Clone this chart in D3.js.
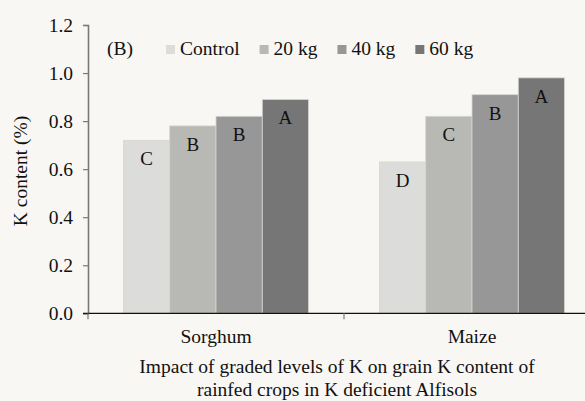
<!DOCTYPE html>
<html>
<head>
<meta charset="utf-8">
<script src="https://cdn.jsdelivr.net/npm/d3@7"></script>
<style>
	html, body { margin: 0; padding: 0; background: #f9f7f3; }
</style>
</head>
<body>
<div id="chart"></div>
<script>
var crops = ["Sorghum", "Maize"];
var levels = ["Control", "20 kg", "40 kg", "60 kg"];
var sorghum = [0.72, 0.78, 0.82, 0.89];
var maize = [0.63, 0.82, 0.91, 0.98];
var sorghumLetters = ["C", "B", "B", "A"];
var maizeLetters = ["D", "C", "B", "A"];
var yTicks = [0, 0.2, 0.4, 0.6, 0.8, 1.0, 1.2];
var colors = ["#dcdcda", "#b8b8b5", "#979797", "#767676"];

var FONT = "'Liberation Serif', 'Times New Roman', serif";
var FS = "19.5px";

var width = 585;
var height = 401;
var margin = {left: 88, top: 25, bottom: 88};
var plotRight = 600; // plot runs past the window edge, as in the original

var svg = d3.select("#chart")
			.append("svg")
			.attr("width", width)
			.attr("height", height)
			.attr("font-family", FONT);

svg.append("rect")
	.attr("width", "100%")
	.attr("height", "100%")
	.attr("fill", "#f9f7f3");

var x0 = d3.scaleBand()
		   .domain(crops)
		   .range([margin.left, plotRight]);

var x1 = d3.scaleBand()
		   .domain(levels)
		   .range([0, x0.bandwidth()])
		   .paddingInner(0)
		   .paddingOuter(0.765);

var y = d3.scaleLinear()
		  .domain([0, 1.2])
		  .range([313.3, margin.top]);

function serif(sel) {
	return sel.style("font-family", FONT).style("font-size", FS).attr("fill", "#111");
}

var table = crops.map(function(c, i) {
	var vals = i === 0 ? sorghum : maize;
	var lets = i === 0 ? sorghumLetters : maizeLetters;
	return {crop: c, bars: levels.map(function(l, j) {
		return {crop: c, level: l, value: vals[j], letter: lets[j], idx: j};
	})};
});

var group = svg.selectAll(".group")
			   .data(table)
			   .enter()
			   	.append("g")
			   	.attr("transform", function(d) { return "translate(" + x0(d.crop) + ",0)"; });

group.selectAll("rect")
	.data(function(d) { return d.bars; })
	.enter()
		.append("rect")
		.attr("x", function(d) { return x1(d.level); })
		.attr("y", function(d) { return y(d.value); })
		.attr("width", x1.bandwidth())
		.attr("height", function(d) { return y(0) - y(d.value); })
		.attr("fill", function(d) { return colors[d.idx]; })
		.attr("stroke", "#d6d6d4")
		.attr("stroke-width", 0.8);

group.selectAll(".letter")
	.data(function(d) { return d.bars; })
	.enter()
		.append("text")
		.attr("x", function(d) { return x1(d.level) + x1.bandwidth() / 2; })
		.attr("y", function(d) { return y(d.value) + 25; })
		.attr("text-anchor", "middle")
		.call(serif)
		.style("font-size", "19px")
		.text(function(d) { return d.letter; });

// y axis
var yAxis = svg.append("g")
			   .attr("transform", "translate(" + margin.left + ",0)")
			   .call(d3.axisLeft(y).tickValues(yTicks).tickSize(5).tickPadding(10)
			   		.tickFormat(d3.format(".1f")));
yAxis.attr("font-family", FONT);
yAxis.select(".domain").attr("stroke", "#7a7a7a").attr("stroke-width", 1.6);
yAxis.selectAll(".tick line").attr("stroke", "#7a7a7a").attr("stroke-width", 1.2);
yAxis.selectAll("text").call(serif);

// x axis
var xAxis = svg.append("g")
			   .attr("transform", "translate(0," + y(0) + ")");
xAxis.append("line")
	 .attr("x1", margin.left - 5)
	 .attr("x2", plotRight)
	 .attr("stroke", "#111")
	 .attr("stroke-width", 1.2);
xAxis.selectAll(".xtick")
	 .data(crops.map(function(c) { return x0(c); }).concat([plotRight]))
	 .enter()
	 	.append("line")
	 	.attr("x1", function(d) { return d; })
	 	.attr("x2", function(d) { return d; })
	 	.attr("y1", 0)
	 	.attr("y2", 6)
	 	.attr("stroke", "#7a7a7a")
	 	.attr("stroke-width", 1.2);
xAxis.selectAll(".xlabel")
	 .data(crops)
	 .enter()
	 	.append("text")
	 	.attr("x", function(d) { return x0(d) + x0.bandwidth() / 2; })
	 	.attr("y", 30)
	 	.attr("text-anchor", "middle")
	 	.call(serif)
	 	.text(function(d) { return d; });

// y label
svg.append("text")
	.attr("transform", "translate(26.5,171) rotate(-90)")
	.attr("text-anchor", "middle")
	.call(serif)
	.text("K content (%)");

// caption below the axis
var caption = ["Impact of graded levels of K on grain K content of",
			   "rainfed crops in K deficient Alfisols"];
svg.selectAll(".caption")
	.data(caption)
	.enter()
		.append("text")
		.attr("x", 337)
		.attr("y", function(d, i) { return 373 + i * 23; })
		.attr("text-anchor", "middle")
		.call(serif)
		.text(function(d) { return d; });

// panel tag and legend
svg.append("text")
	.attr("x", 107)
	.attr("y", 55)
	.call(serif)
	.text("(B)");

var lx = 166;
levels.forEach(function(l, i) {
	svg.append("rect")
		.attr("x", lx)
		.attr("y", 45)
		.attr("width", 9)
		.attr("height", 9)
		.attr("fill", colors[i]);
	var t = svg.append("text")
			   .attr("x", lx + 14)
			   .attr("y", 55)
			   .call(serif)
			   .text(l);
	lx = lx + 14 + t.node().getComputedTextLength() + 20;
});
</script>
</body>
</html>
